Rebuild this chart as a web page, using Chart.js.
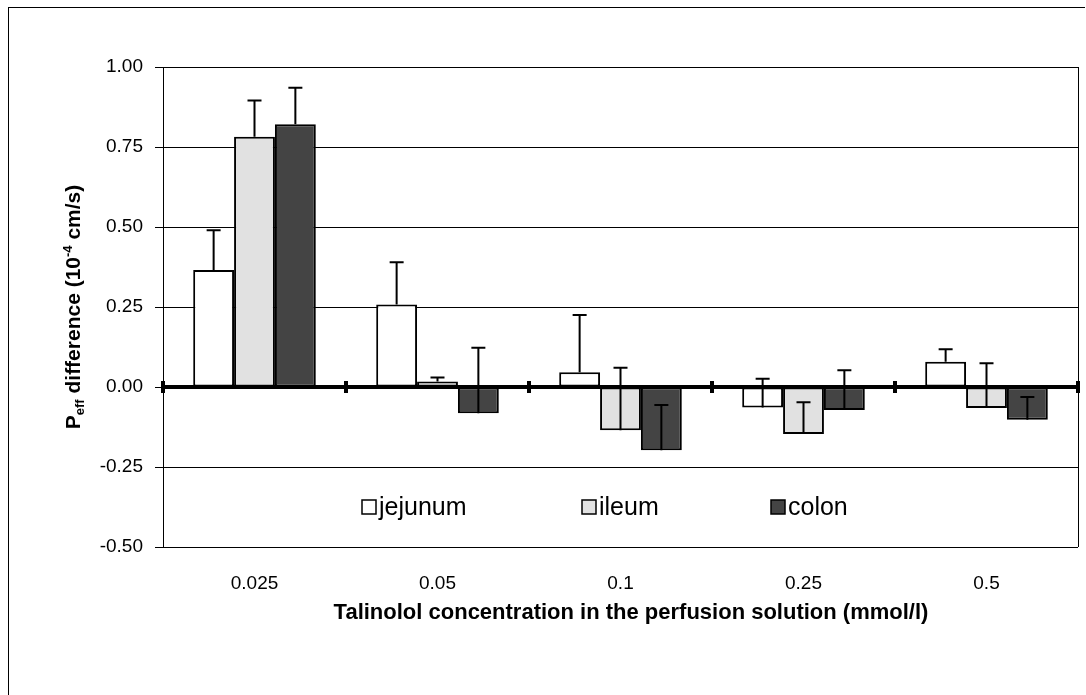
<!DOCTYPE html>
<html>
<head>
<meta charset="utf-8">
<script src="https://cdn.jsdelivr.net/npm/chart.js@4"></script>
<style>
  html, body { margin: 0; padding: 0; background: #fff; }
  #wrap { position: relative; width: 1086px; height: 695px; }
  #frame {
    position: absolute; left: 8px; top: 7px; width: 1076px; height: 690px;
    border-left: 1px solid #000; border-top: 1px solid #000;
  }
  canvas { position: absolute; left: 0; top: 0; }
</style>
</head>
<body>
<div id="wrap">
  <div id="frame"></div>
  <canvas id="chart" width="1086" height="695"></canvas>
</div>
<script>
const categories = ["0.025", "0.05", "0.1", "0.25", "0.5"];

const jejunum = [0.366, 0.258, 0.046, -0.064, 0.079];
const jejunumErr = [0.124, 0.132, 0.179, 0.090, 0.039];
const ileum = [0.782, 0.017, -0.135, -0.147, -0.066];
const ileumErr = [0.113, 0.013, 0.195, 0.099, 0.140];
const colon = [0.821, -0.082, -0.198, -0.072, -0.102];
const colonErr = [0.114, 0.205, 0.142, 0.124, 0.071];

const yTicks = [-0.5, -0.25, 0, 0.25, 0.5, 0.75, 1.0];

const FONT = "Arial, 'Liberation Sans', sans-serif";
const xTitle = "Talinolol concentration in the perfusion solution (mmol/l)";

// error bars (plus direction only) + thick zero line with category ticks
const extrasPlugin = {
  id: "extras",
  afterDatasetsDraw(chart) {
    const { ctx, chartArea, scales } = chart;
    const x = scales.x;
    const y = scales.y;
    const y0 = y.getPixelForValue(0);

    ctx.save();
    // right edge of plot
    ctx.strokeStyle = "#000";
    ctx.lineWidth = 1;
    ctx.beginPath();
    ctx.moveTo(chartArea.right + 0.5, chartArea.top);
    ctx.lineTo(chartArea.right + 0.5, chartArea.bottom);
    ctx.stroke();

    // zero line
    ctx.fillStyle = "#000";
    ctx.fillRect(chartArea.left, y0 - 2, chartArea.right - chartArea.left, 4);
    const n = categories.length;
    for (let i = 0; i <= n; i++) {
      let bx;
      if (i === 0) bx = chartArea.left;
      else if (i === n) bx = chartArea.right;
      else bx = (x.getPixelForTick(i - 1) + x.getPixelForTick(i)) / 2;
      ctx.fillRect(bx - 2, y0 - 6, 4, 12);
    }

    // error bars
    chart.data.datasets.forEach((ds, di) => {
      const meta = chart.getDatasetMeta(di);
      meta.data.forEach((bar, i) => {
        const v = ds.data[i];
        const top = y.getPixelForValue(v + ds.err[i]);
        const base = y.getPixelForValue(v);
        ctx.lineWidth = 2;
        ctx.beginPath();
        ctx.moveTo(bar.x, base);
        ctx.lineTo(bar.x, top);
        ctx.moveTo(bar.x - 7, top);
        ctx.lineTo(bar.x + 7, top);
        ctx.stroke();
      });
    });
    ctx.restore();
  },
  afterDraw(chart) {
    const { ctx, chartArea } = chart;
    ctx.save();
    ctx.fillStyle = "#000";

    // legend inside the plot
    const legendY = 507;
    const legendX = [362, 582, 771];
    chart.data.datasets.forEach((ds, i) => {
      const bx = legendX[i];
      ctx.fillStyle = ds.backgroundColor;
      ctx.fillRect(bx, legendY - 7, 14, 14);
      ctx.strokeStyle = "#000";
      ctx.lineWidth = 1.5;
      ctx.strokeRect(bx, legendY - 7, 14, 14);
      ctx.fillStyle = "#000";
      ctx.font = "25px " + FONT;
      ctx.textAlign = "left";
      ctx.textBaseline = "middle";
      ctx.fillText(ds.label, bx + 17, legendY + 1);
    });

    // x title
    ctx.font = "bold 22px " + FONT;
    ctx.textAlign = "center";
    ctx.textBaseline = "middle";
    ctx.fillText(xTitle, 631, 613);

    // y title with subscript / superscript
    const parts = [
      { t: "P", size: 21, dy: 0 },
      { t: "eff", size: 13, dy: 4 },
      { t: " difference (10", size: 21, dy: 0 },
      { t: "-4", size: 13, dy: -8 },
      { t: " cm/s)", size: 21, dy: 0 },
    ];
    let total = 0;
    parts.forEach((p) => {
      ctx.font = "bold " + p.size + "px " + FONT;
      p.w = ctx.measureText(p.t).width;
      total += p.w;
    });
    ctx.translate(73, (chartArea.top + chartArea.bottom) / 2);
    ctx.rotate(-Math.PI / 2);
    ctx.textAlign = "left";
    ctx.textBaseline = "alphabetic";
    let cx = -total / 2;
    parts.forEach((p) => {
      ctx.font = "bold " + p.size + "px " + FONT;
      ctx.fillText(p.t, cx, 7 + p.dy);
      cx += p.w;
    });
    ctx.restore();
  },
};

new Chart(document.getElementById("chart"), {
  type: "bar",
  data: {
    labels: categories,
    datasets: [
      { label: "jejunum", data: jejunum, err: jejunumErr, backgroundColor: "#ffffff" },
      { label: "ileum", data: ileum, err: ileumErr, backgroundColor: "#e1e1e1" },
      { label: "colon", data: colon, err: colonErr, backgroundColor: "#444444" },
    ].map((d) => ({
      ...d,
      borderColor: "#000",
      borderWidth: 2,
      borderSkipped: false,
      categoryPercentage: 0.67,
      barPercentage: 1.0,
    })),
  },
  options: {
    responsive: false,
    animation: false,
    devicePixelRatio: 1,
    layout: { padding: { top: 67, right: 8, left: 0, bottom: 0 } },
    plugins: { legend: { display: false }, tooltip: { enabled: false } },
    scales: {
      x: {
        grid: { display: false },
        border: { display: false },
        ticks: { color: "#000", font: { family: FONT, size: 19 }, padding: 17 },
        afterFit: (s) => { s.height = 148; },
      },
      y: {
        min: -0.5,
        max: 1.0,
        afterBuildTicks: (s) => { s.ticks = yTicks.map((v) => ({ value: v })); },
        ticks: {
          color: "#000",
          font: { family: FONT, size: 19 },
          padding: 12,
          callback: (v) => Number(v).toFixed(2),
        },
        grid: {
          color: (c) => (c.tick && c.tick.value === 0 ? "rgba(0,0,0,0)" : "#000"),
          tickColor: "#000",
          tickLength: 8,
          lineWidth: 1,
        },
        border: { display: true, color: "#000", width: 1 },
        afterFit: (s) => { s.width = 163; },
      },
    },
  },
  plugins: [extrasPlugin],
});
</script>
</body>
</html>
